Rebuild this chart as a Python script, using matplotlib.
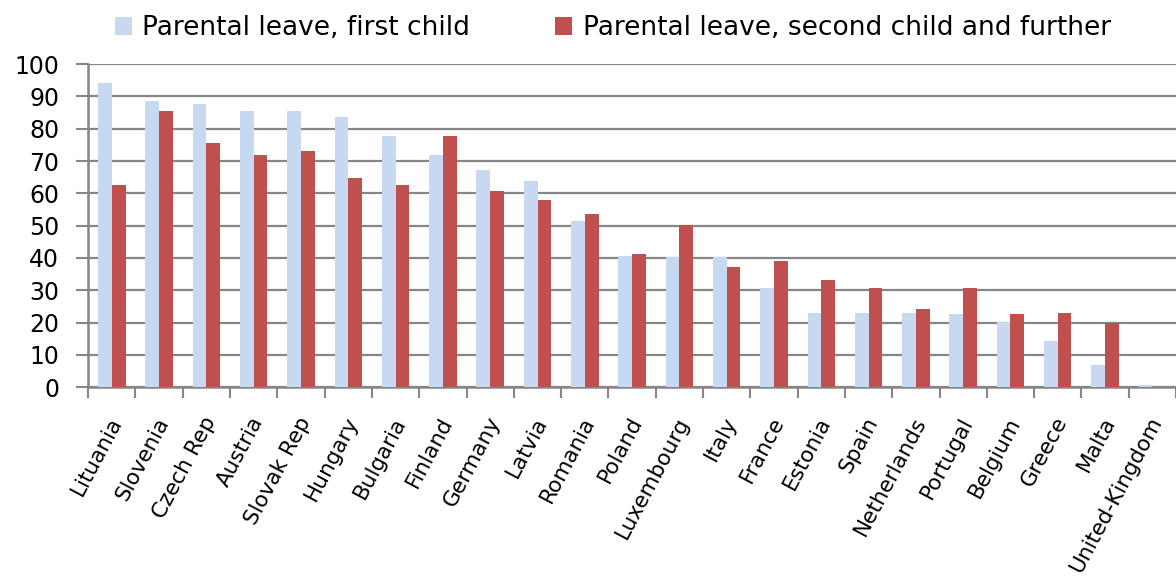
import matplotlib.pyplot as plt
import matplotlib.transforms as mtransforms
import numpy as np
from matplotlib.ticker import FixedLocator

countries = ['Lituania', 'Slovenia', 'Czech Rep', 'Austria', 'Slovak Rep', 'Hungary',
             'Bulgaria', 'Finland', 'Germany', 'Latvia', 'Romania', 'Poland',
             'Luxembourg', 'Italy', 'France', 'Estonia', 'Spain', 'Netherlands',
             'Portugal', 'Belgium', 'Greece', 'Malta', 'United-Kingdom']
first_child = [94.3, 88.5, 87.8, 85.6, 85.6, 83.7, 77.8, 72.0, 67.3, 63.7, 51.4, 40.7,
               40.2, 40.2, 30.8, 23.1, 23.1, 23.1, 22.5, 20.3, 14.4, 6.7, 0.8]
second_child = [62.7, 85.6, 75.6, 72.0, 73.2, 64.8, 62.7, 77.8, 60.8, 57.9, 53.7, 41.3,
                50.2, 37.3, 39.1, 33.2, 30.8, 24.3, 30.8, 22.6, 23.1, 19.8, 0.0]

plt.rcParams['font.family'] = ['DejaVu Sans']
grey = '#868686'

fig = plt.figure(figsize=(11.76, 5.83), dpi=100)
ax = fig.add_axes([0.075, 0.336, 0.925, 0.554])

x = np.arange(len(countries))
w = 0.29
ax.bar(x - w / 2, first_child, w, color='#C6D9F1', label='Parental leave, first child', zorder=3)
ax.bar(x + w / 2, second_child, w, color='#C0504D', label='Parental leave, second child and further', zorder=3)

ax.set_xlim(-0.5, len(countries) - 0.5)
ax.set_ylim(0, 100)
ax.set_yticks(np.arange(0, 101, 10))
ax.yaxis.grid(True, color=grey, lw=1.6, zorder=0)
ax.tick_params(axis='y', length=9, width=1.5, color=grey, labelsize=17, pad=12)

ax.set_xticks(x)
ax.set_xticklabels(countries, rotation=62, ha='right', rotation_mode='anchor', fontsize=15.5)
ax.tick_params(axis='x', which='major', length=0, pad=19)
# nudge the rotated labels so their ends sit under the category centres
offset = mtransforms.ScaledTranslation(-0.04, 0, fig.dpi_scale_trans)
for lab in ax.get_xticklabels():
    lab.set_transform(lab.get_transform() + offset)
ax.xaxis.set_minor_locator(FixedLocator(np.arange(-0.5, len(countries), 1)))
ax.tick_params(axis='x', which='minor', length=8, width=1.5, color=grey)

for s in ['top', 'right']:
    ax.spines[s].set_visible(False)
for s in ['left', 'bottom']:
    ax.spines[s].set_color(grey)
    ax.spines[s].set_linewidth(1.8)

fig.legend(loc='upper center', bbox_to_anchor=(0.521, 1.015), ncol=2, frameon=False,
           fontsize=19, handlelength=0.65, handleheight=0.65, handletextpad=0.4,
           columnspacing=3.2)

fig.savefig('out.png', dpi=100)
